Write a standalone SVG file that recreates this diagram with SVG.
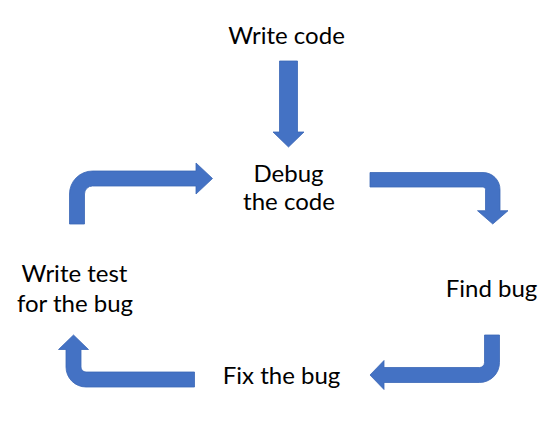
<svg xmlns="http://www.w3.org/2000/svg" width="558" height="426" viewBox="0 0 558 426">
<style>
.lbl{font-family:Lato,"Open Sans","Noto Sans",sans-serif;font-size:24px;fill:#000;text-anchor:middle}
.arr{fill:#4472C4;stroke:#3B67B6;stroke-width:0.8;stroke-linejoin:miter}
</style>
<rect width="558" height="426" fill="#fff"/>
<g id="connectors">
<path class="arr" d="M279.5,61 H297.5 V132 H304 L288.5,147 L273,132 H279.5 Z"/>
<path class="arr" d="M370,172.5 H483 A17,17 0 0 1 500,189.5 V210.7 H508 L492.75,224 L477.5,210.7 H485.5 V189.5 A2.5,2.5 0 0 0 483,187 H370 Z"/>
<path class="arr" d="M484.5,335 H499.5 V362.5 A20,20 0 0 1 479.5,382.5 H384 V389.5 L370,375 L384,360.5 V367.5 H479.5 A5,5 0 0 0 484.5,362.5 Z"/>
<path class="arr" d="M194.5,372 V387 H86 A20,20 0 0 1 66,367 V349.5 H58.5 L73.5,335 L88.5,349.5 H81 V367 A5,5 0 0 0 86,372 Z"/>
<path class="arr" d="M69.5,224 V194 A23,23 0 0 1 92.5,171 H196 V163 L212.5,178.5 L196,194 V186 H92.5 A8,8 0 0 0 84.5,194 V224 Z"/>
</g>
<g id="write-code"><text class="lbl" x="286.5" y="44">Write code</text></g>
<g id="debug"><text class="lbl" x="288.5" y="182">Debug</text><text class="lbl" x="289" y="210">the code</text></g>
<g id="find-bug"><text class="lbl" x="491.5" y="297">Find bug</text></g>
<g id="fix-bug"><text class="lbl" x="281.5" y="384">Fix the bug</text></g>
<g id="write-test"><text class="lbl" x="74.5" y="282">Write test</text><text class="lbl" x="75" y="312">for the bug</text></g>
</svg>
